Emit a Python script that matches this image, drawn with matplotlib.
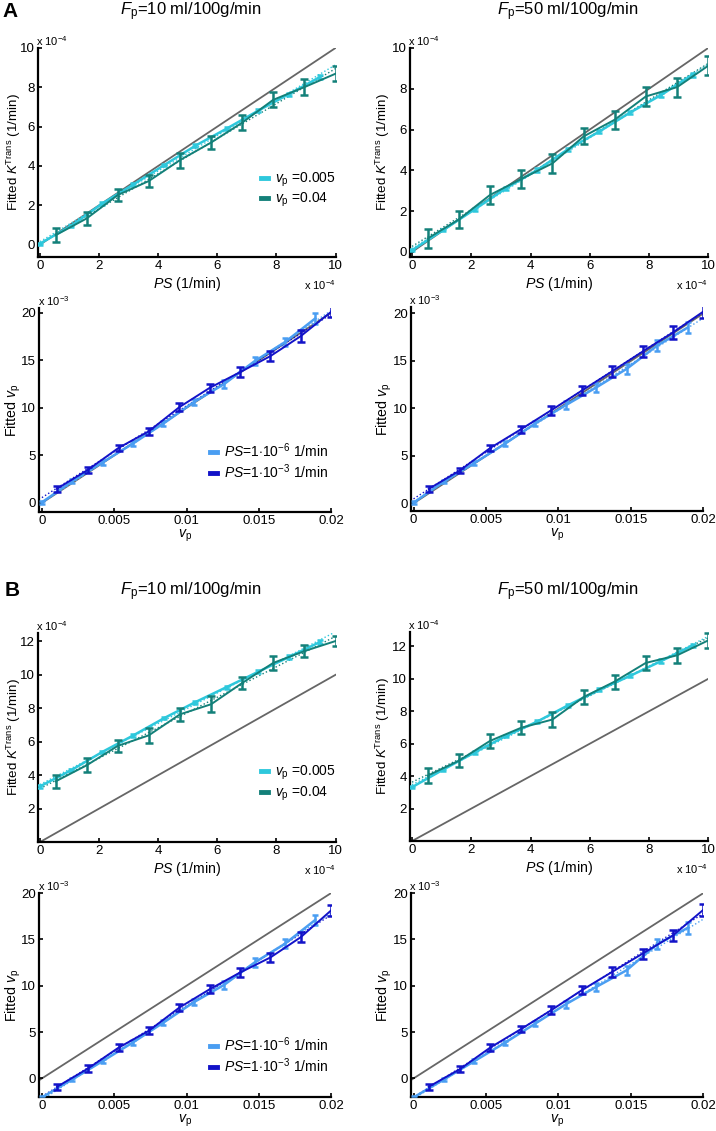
import numpy as np
import matplotlib
matplotlib.use('Agg')
import matplotlib.pyplot as plt
from matplotlib.lines import Line2D
from matplotlib.ticker import FormatStrFormatter

plt.rcParams['font.family'] = ['Liberation Sans', 'DejaVu Sans']
plt.rcParams['mathtext.fontset'] = 'custom'
plt.rcParams['mathtext.rm'] = 'Liberation Sans'
plt.rcParams['mathtext.it'] = 'Liberation Sans:italic'
plt.rcParams['mathtext.bf'] = 'Liberation Sans:bold'

# x grids: light series sits on even samples, dark series on odd samples
ps_even = [0, 1.05, 2.11, 3.16, 4.21, 5.26, 6.32, 7.37, 8.42, 9.47]      # x 1e-4 1/min
ps_odd  = [0.53, 1.58, 2.63, 3.68, 4.74, 5.79, 6.84, 7.89, 8.95, 10.0]
vp_even = [0, 0.0021, 0.0042, 0.0063, 0.0084, 0.0105, 0.0126, 0.0147, 0.0168, 0.0189]
vp_odd  = [0.00105, 0.0032, 0.0053, 0.0074, 0.0095, 0.0116, 0.0137, 0.0158, 0.0179, 0.02]

# ---- panel A: fitted Ktrans (x 1e-4 1/min)
kA10_lo     = [0.05, 0.95, 2.09, 3.06, 4.05, 5.03, 5.90, 6.80, 7.65, 8.52]
kA10_lo_err = [0.05, 0.05, 0.06, 0.06, 0.06, 0.07, 0.07, 0.07, 0.08, 0.08]
kA10_hi     = [0.48, 1.33, 2.52, 3.23, 4.30, 5.19, 6.20, 7.36, 8.01, 8.69]
kA10_hi_err = [0.34, 0.35, 0.31, 0.30, 0.38, 0.34, 0.37, 0.38, 0.39, 0.37]
kA50_lo     = [0.08, 1.07, 2.08, 3.11, 4.00, 5.03, 5.90, 6.84, 7.70, 8.69]
kA50_lo_err = [0.06, 0.07, 0.07, 0.08, 0.10, 0.08, 0.08, 0.09, 0.09, 0.10]
kA50_hi     = [0.66, 1.59, 2.79, 3.57, 4.34, 5.66, 6.48, 7.62, 8.08, 9.13]
kA50_hi_err = [0.45, 0.41, 0.45, 0.45, 0.47, 0.39, 0.45, 0.46, 0.47, 0.46]

# ---- panel A: fitted vp (x 1e-3)
vA10_lo     = [0.07, 2.28, 4.28, 6.25, 8.35, 10.60, 12.50, 14.90, 16.90, 19.40]
vA10_lo_err = [0.15, 0.20, 0.25, 0.25, 0.30, 0.35, 0.40, 0.40, 0.45, 0.55]
vA10_hi     = [1.50, 3.50, 5.79, 7.54, 10.07, 12.10, 13.75, 15.44, 17.54, 20.10]
vA10_hi_err = [0.30, 0.30, 0.30, 0.35, 0.40, 0.45, 0.50, 0.55, 0.60, 0.60]
vA50_lo     = [0.07, 2.30, 4.25, 6.27, 8.42, 10.34, 12.20, 14.16, 16.60, 18.50]
vA50_lo_err = [0.15, 0.20, 0.25, 0.25, 0.30, 0.40, 0.45, 0.50, 0.55, 0.60]
vA50_hi     = [1.52, 3.47, 5.84, 7.79, 9.80, 11.86, 13.90, 15.98, 18.00, 20.20]
vA50_hi_err = [0.30, 0.30, 0.30, 0.35, 0.45, 0.50, 0.55, 0.60, 0.65, 0.70]

# ---- panel B: fitted Ktrans (x 1e-4 1/min)
kB10_lo     = [3.33, 4.29, 5.39, 6.38, 7.42, 8.37, 9.27, 10.17, 11.06, 11.96]
kB10_lo_err = [0.07, 0.07, 0.08, 0.08, 0.08, 0.09, 0.09, 0.09, 0.10, 0.10]
kB10_hi     = [3.63, 4.59, 5.75, 6.38, 7.64, 8.24, 9.51, 10.71, 11.42, 12.02]
kB10_hi_err = [0.37, 0.42, 0.37, 0.44, 0.40, 0.47, 0.38, 0.43, 0.38, 0.30]
kB50_lo     = [3.32, 4.40, 5.46, 6.47, 7.35, 8.36, 9.32, 10.19, 11.10, 12.06]
kB50_lo_err = [0.07, 0.07, 0.08, 0.08, 0.09, 0.09, 0.09, 0.10, 0.10, 0.10]
kB50_hi     = [4.03, 4.95, 6.17, 6.98, 7.49, 8.87, 9.83, 10.98, 11.45, 12.37]
kB50_hi_err = [0.48, 0.41, 0.41, 0.41, 0.44, 0.43, 0.43, 0.44, 0.45, 0.45]

# ---- panel B: fitted vp (x 1e-3)
vB10_lo     = [-2.05, -0.11, 1.87, 3.89, 6.02, 8.22, 10.09, 12.50, 14.52, 17.10]
vB10_lo_err = [0.15, 0.20, 0.25, 0.25, 0.30, 0.35, 0.40, 0.45, 0.50, 0.55]
vB10_hi     = [-0.90, 1.08, 3.32, 5.15, 7.64, 9.62, 11.42, 13.05, 15.24, 18.13]
vB10_hi_err = [0.35, 0.35, 0.35, 0.35, 0.40, 0.45, 0.45, 0.50, 0.55, 0.60]
vB50_lo     = [-2.05, -0.11, 1.87, 3.84, 5.92, 8.00, 9.87, 11.67, 14.47, 16.23]
vB50_lo_err = [0.15, 0.20, 0.25, 0.25, 0.30, 0.40, 0.45, 0.50, 0.55, 0.60]
vB50_hi     = [-0.90, 1.00, 3.34, 5.31, 7.36, 9.51, 11.49, 13.46, 15.44, 18.20]
vB50_hi_err = [0.35, 0.35, 0.35, 0.35, 0.40, 0.45, 0.50, 0.55, 0.60, 0.65]

c_teal_lo = '#2ec8dc'
c_teal_hi = '#138079'
c_blue_lo = '#4a9ef2'
c_blue_hi = '#1212c8'
c_ident   = '#666666'

fig = plt.figure(figsize=(7.16, 11.31), dpi=100)


def draw_panel(rect, kind, lo, lo_err, hi, hi_err, ylim, yticks, ylab_x, legend=None):
    ax = fig.add_axes(rect)
    if kind == 'k':
        x_lo, x_hi, c_lo, c_hi = ps_even, ps_odd, c_teal_lo, c_teal_hi
        xmax, slope = 10.0, 1.0
    else:
        x_lo, x_hi, c_lo, c_hi = vp_even, vp_odd, c_blue_lo, c_blue_hi
        xmax, slope = 0.02, 1000.0
    ax.axline((0, 0), slope=slope, color=c_ident, lw=1.3, zorder=1)
    # linear fits (dotted)
    xx = np.array([0, xmax])
    for xs, ys, c in [(x_lo, lo, c_lo), (x_hi, hi, c_hi)]:
        p = np.polyfit(xs, ys, 1)
        ax.plot(xx, np.polyval(p, xx), ':', color=c, lw=1.0, zorder=2)
    ax.errorbar(x_lo, lo, yerr=lo_err, color=c_lo, lw=1.8, elinewidth=1.8,
                capsize=2.5, capthick=1.8, zorder=3)
    ax.errorbar(x_hi, hi, yerr=hi_err, color=c_hi, lw=1.4, elinewidth=1.8,
                capsize=3, capthick=1.8, zorder=4)
    if kind == 'k':
        ax.set_xlim(-0.08, 10.0)
        ax.set_xticks([0, 2, 4, 6, 8, 10])
        ax.text(1.0, -0.1, r'x 10$^{-4}$', transform=ax.transAxes, ha='right', va='top', fontsize=8)
        ax.text(-0.005, 1.0, r'x 10$^{-4}$', transform=ax.transAxes, ha='left', va='bottom', fontsize=8)
        ax.set_ylabel(r'Fitted $K^{\mathrm{Trans}}$ (1/min)', fontsize=9.6)
        ax.set_xlabel(r'$PS$ (1/min)', fontsize=10.2, labelpad=2)
    else:
        ax.set_xlim(-0.0002, 0.02)
        ax.set_xticks([0, 0.005, 0.01, 0.015, 0.02])
        ax.xaxis.set_major_formatter(FormatStrFormatter('%g'))
        ax.text(-0.005, 1.0, r'x 10$^{-3}$', transform=ax.transAxes, ha='left', va='bottom', fontsize=8)
        ax.set_ylabel(r'Fitted $v_\mathrm{p}$', fontsize=10.2)
        ax.set_xlabel(r'$v_\mathrm{p}$', fontsize=10.2, labelpad=1)
    ax.yaxis.set_label_coords(ylab_x, 0.5)
    ax.set_ylim(*ylim)
    ax.set_yticks(yticks)
    for s in ['top', 'right']:
        ax.spines[s].set_visible(False)
    for s in ['left', 'bottom']:
        ax.spines[s].set_linewidth(1.6)
    ax.tick_params(direction='in', length=3, width=1.2, labelsize=9.5, pad=2)
    if legend is not None:
        labels, anchor = legend
        handles = [Line2D([], [], color=c_lo, lw=3.5), Line2D([], [], color=c_hi, lw=3.5)]
        ax.legend(handles, labels, loc='center left', bbox_to_anchor=anchor, frameon=False,
                  handlelength=0.55, handletextpad=0.45, labelspacing=0.15, fontsize=10,
                  borderaxespad=0)
    return ax


leg_k = [r'$v_\mathrm{p}$ =0.005', r'$v_\mathrm{p}$ =0.04']
leg_v = [r'$PS$=1$\cdot$10$^{-6}$ 1/min', r'$PS$=1$\cdot$10$^{-3}$ 1/min']

draw_panel([0.0526, 0.7728, 0.416, 0.1848], 'k', kA10_lo, kA10_lo_err, kA10_hi, kA10_hi_err,
           (-0.63, 10), [0, 2, 4, 6, 8, 10], -0.05, legend=(leg_k, (0.73, 0.32)))
draw_panel([0.5722, 0.7728, 0.417, 0.1848], 'k', kA50_lo, kA50_lo_err, kA50_hi, kA50_hi_err,
           (-0.25, 10), [0, 2, 4, 6, 8, 10], -0.06)
draw_panel([0.0545, 0.5473, 0.408, 0.1804], 'v', vA10_lo, vA10_lo_err, vA10_hi, vA10_hi_err,
           (-0.95, 20.5), [0, 5, 10, 15, 20], -0.054, legend=(leg_v, (0.565, 0.25)))
draw_panel([0.5735, 0.5482, 0.409, 0.1806], 'v', vA50_lo, vA50_lo_err, vA50_hi, vA50_hi_err,
           (-0.8, 20.7), [0, 5, 10, 15, 20], -0.058)
draw_panel([0.0526, 0.2555, 0.416, 0.1848], 'k', kB10_lo, kB10_lo_err, kB10_hi, kB10_hi_err,
           (0, 12.5), [2, 4, 6, 8, 10, 12], -0.05, legend=(leg_k, (0.73, 0.28)))
draw_panel([0.5722, 0.2564, 0.417, 0.1850], 'k', kB50_lo, kB50_lo_err, kB50_hi, kB50_hi_err,
           (0, 12.9), [2, 4, 6, 8, 10, 12], -0.06)
draw_panel([0.0545, 0.0301, 0.408, 0.1803], 'v', vB10_lo, vB10_lo_err, vB10_hi, vB10_hi_err,
           (-2, 20), [0, 5, 10, 15, 20], -0.054, legend=(leg_v, (0.565, 0.205)))
draw_panel([0.5735, 0.0301, 0.409, 0.1803], 'v', vB50_lo, vB50_lo_err, vB50_hi, vB50_hi_err,
           (-2, 20), [0, 5, 10, 15, 20], -0.058)

fig.text(0.003, 0.9895, 'A', fontsize=15, fontweight='bold', ha='left', va='center')
fig.text(0.006, 0.4775, 'B', fontsize=15, fontweight='bold', ha='left', va='center')
for yy in [0.9895, 0.4765]:
    fig.text(0.266, yy, r'$F_\mathrm{p}$=10 ml/100g/min', fontsize=12, ha='center', va='center')
    fig.text(0.793, yy, r'$F_\mathrm{p}$=50 ml/100g/min', fontsize=12, ha='center', va='center')

plt.savefig('out.png', dpi=100)
